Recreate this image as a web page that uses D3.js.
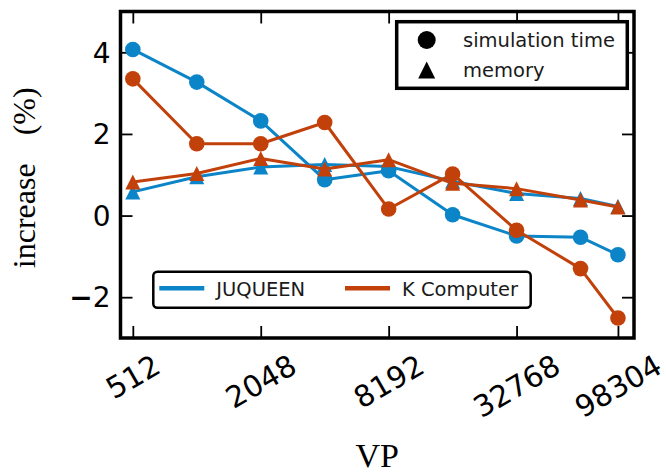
<!DOCTYPE html>
<html>
<head>
<meta charset="utf-8">
<script src="https://cdn.jsdelivr.net/npm/d3@7"></script>
<style>
  html, body { margin: 0; padding: 0; background: #fff; }
  svg { display: block; }
</style>
</head>
<body>
<svg id="chart" width="666" height="473"></svg>
<script>
// Virtual processes (log2 axis) and the measured relative increase in %
const vp = [512, 1024, 2048, 4096, 8192, 16384, 32768, 65536, 98304];
const vpTicks = [512, 2048, 8192, 32768, 98304];
const yTicks = [-2, 0, 2, 4];

const juqueenTime   = [4.07, 3.27, 2.32, 0.88, 1.10, 0.02, -0.50, -0.53, -0.96];
const juqueenMemory = [0.58, 0.95, 1.19, 1.25, 1.20, 0.84, 0.54, 0.42, 0.22];
const kTime         = [3.35, 1.76, 1.76, 2.28, 0.16, 1.02, -0.36, -1.30, -2.51];
const kMemory       = [0.82, 1.03, 1.40, 1.14, 1.37, 0.79, 0.66, 0.38, 0.21];

const machines = ["JUQUEEN", "K Computer"];
const metrics = ["simulation time", "memory"];

const colors = { "JUQUEEN": "#0b84c8", "K Computer": "#c2410a" };

const series = [
  { machine: "JUQUEEN",    metric: "simulation time", values: juqueenTime },
  { machine: "JUQUEEN",    metric: "memory",          values: juqueenMemory },
  { machine: "K Computer", metric: "simulation time", values: kTime },
  { machine: "K Computer", metric: "memory",          values: kMemory }
];

const svg = d3.select("#chart");
const plot = { left: 120.5, right: 634, top: 11.5, bottom: 338 };

const x = d3.scaleLog().base(2).domain([448, 117000]).range([plot.left, plot.right]);
const y = d3.scaleLinear().domain([-3, 5]).range([plot.bottom, plot.top]);

const tickFont = "DejaVu Sans, Verdana, sans-serif";
const serifFont = "Liberation Serif, Times New Roman, serif";

// Inward ticks on all four sides
function tickAxis(axis, tx, ty) {
  const g = svg.append("g").attr("transform", `translate(${tx},${ty})`).call(axis);
  g.select(".domain").remove();
  g.selectAll(".tick line").attr("stroke", "#000").attr("stroke-width", 1.8);
  g.selectAll(".tick text").remove();
  return g;
}
tickAxis(d3.axisBottom(x).tickValues(vpTicks).tickSize(-12), 0, plot.bottom);
tickAxis(d3.axisTop(x).tickValues(vpTicks).tickSize(-12), 0, plot.top);
tickAxis(d3.axisLeft(y).tickValues(yTicks).tickSize(-12), plot.left, 0);
tickAxis(d3.axisRight(y).tickValues(yTicks).tickSize(-12), plot.right, 0);

// Y tick labels
const yLab = svg.append("g");
yTicks.forEach(v => {
  const t = yLab.append("text")
    .attr("x", plot.left - 10)
    .attr("y", y(v))
    .attr("dy", "0.365em")
    .attr("text-anchor", "end")
    .attr("font-family", tickFont)
    .attr("font-size", 28)
    .attr("fill", "#000");
  if (v < 0) {
    t.append("tspan").attr("font-weight", "bold").text("\u2212");
    t.append("tspan").text(String(Math.abs(v)));
  } else {
    t.text(String(v));
  }
});

// Rotated x tick labels, bounding box centred under each tick
const xLabTop = 353;
const fs = 29.5;
const ang = 30 * Math.PI / 180;
vpTicks.forEach(v => {
  const g = svg.append("g");
  const t = g.append("text")
    .attr("text-anchor", "middle")
    .attr("dy", "0.365em")
    .attr("font-family", tickFont)
    .attr("font-size", fs)
    .attr("fill", "#000")
    .attr("transform", "rotate(-30)")
    .text(String(v));
  const w = t.node().getComputedTextLength();
  const h = 0.729 * fs;
  const bh = w * Math.sin(ang) + h * Math.cos(ang);
  g.attr("transform", `translate(${x(v)},${xLabTop + bh / 2})`);
});

// Axis titles
svg.append("text")
  .attr("x", (plot.left + plot.right) / 2)
  .attr("y", 467)
  .attr("text-anchor", "middle")
  .attr("font-family", serifFont)
  .attr("font-size", 34)
  .attr("fill", "#000")
  .text("VP");

const yTitle = svg.append("text")
  .attr("transform", `translate(35,${(plot.top + plot.bottom) / 2 + 3}) rotate(-90)`)
  .attr("text-anchor", "middle")
  .attr("font-family", serifFont)
  .attr("font-size", 32)
  .attr("fill", "#000");
yTitle.append("tspan").text("increase");
yTitle.append("tspan").attr("dx", 28).text("(%)");

// Marker shapes
const tri = s => `M0,${-s}L${-s},${s}L${s},${s}Z`;

// Data lines and markers
const line = d3.line().x((d, i) => x(vp[i])).y(d => y(d));
const dataG = svg.append("g");
series.forEach(s => {
  const g = dataG.append("g");
  g.append("path")
    .attr("d", line(s.values))
    .attr("fill", "none")
    .attr("stroke", colors[s.machine])
    .attr("stroke-width", 3)
    .attr("stroke-linejoin", "round");
  const pts = g.selectAll(".pt").data(s.values).enter();
  if (s.metric === "simulation time") {
    pts.append("circle")
      .attr("cx", (d, i) => x(vp[i]))
      .attr("cy", d => y(d))
      .attr("r", 7.8)
      .attr("fill", colors[s.machine]);
  } else {
    pts.append("path")
      .attr("d", tri(7.5))
      .attr("transform", (d, i) => `translate(${x(vp[i])},${y(d)})`)
      .attr("fill", colors[s.machine]);
  }
});

// Frame
svg.append("rect")
  .attr("x", plot.left).attr("y", plot.top)
  .attr("width", plot.right - plot.left).attr("height", plot.bottom - plot.top)
  .attr("fill", "none").attr("stroke", "#000").attr("stroke-width", 3.5);

// Legend: marker shape per metric
const leg1 = svg.append("g");
leg1.append("rect")
  .attr("x", 396.7).attr("y", 21.7).attr("width", 230.6).attr("height", 66.6)
  .attr("fill", "#fff").attr("stroke", "#000").attr("stroke-width", 3.5);
metrics.forEach((m, i) => {
  const cy = 40 + i * 30;
  if (m === "simulation time") {
    leg1.append("circle").attr("cx", 426.7).attr("cy", cy).attr("r", 9).attr("fill", "#000");
  } else {
    leg1.append("path").attr("d", tri(8.5)).attr("transform", `translate(426.7,${cy})`).attr("fill", "#000");
  }
  leg1.append("text")
    .attr("x", 463).attr("y", cy + 6.5)
    .attr("font-family", tickFont).attr("font-size", 19.5)
    .attr("fill", "#1a1a1a")
    .text(m);
});

// Legend: colour per machine
const leg2 = svg.append("g");
leg2.append("rect")
  .attr("x", 153.3).attr("y", 271.7).attr("width", 377.4).attr("height", 36)
  .attr("rx", 4).attr("ry", 4)
  .attr("fill", "#fff").attr("stroke", "#000").attr("stroke-width", 2.5);
const legX = [159.3, 345];
machines.forEach((m, i) => {
  leg2.append("line")
    .attr("x1", legX[i]).attr("x2", legX[i] + 45)
    .attr("y1", 288.3).attr("y2", 288.3)
    .attr("stroke", colors[m]).attr("stroke-width", 4.5);
  leg2.append("text")
    .attr("x", legX[i] + 57).attr("y", 295.5)
    .attr("font-family", tickFont).attr("font-size", 19.5)
    .attr("fill", "#1a1a1a")
    .text(m);
});
</script>
</body>
</html>
